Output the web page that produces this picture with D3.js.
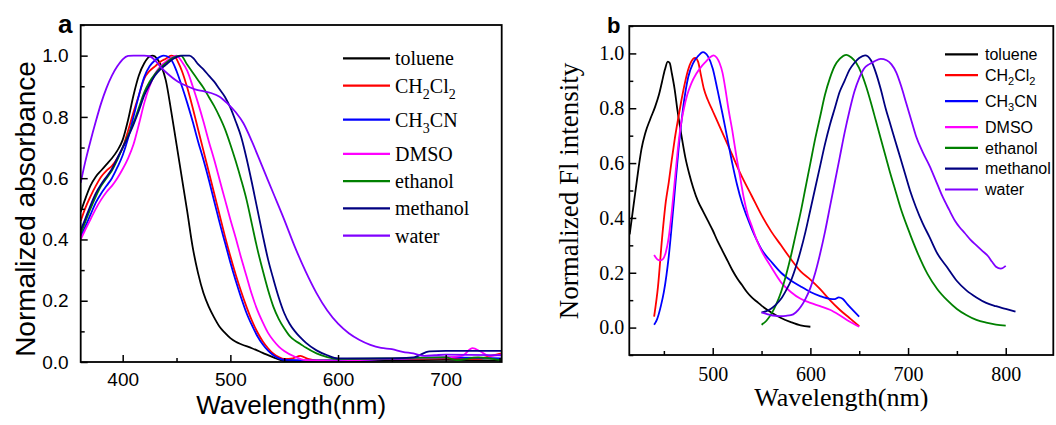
<!DOCTYPE html>
<html>
<head>
<meta charset="utf-8">
<script src="https://cdn.jsdelivr.net/npm/d3@7"></script>
<style>
  body { margin: 0; background: #fff; }
  svg { display: block; }
</style>
</head>
<body>
<svg id="chart" width="1056" height="425"></svg>
<script>
// ---- solvents and their colours ----
const solvents = ["toluene", "CH2Cl2", "CH3CN", "DMSO", "ethanol", "methanol", "water"];
const solventColors = ["#000000", "#ff0000", "#0000ff", "#ff00ff", "#008000", "#000080", "#8000ff"];

// ---- tick labels ----
const absTicksX = [400, 500, 600, 700];
const absTicksY = [0.0, 0.2, 0.4, 0.6, 0.8, 1.0];
const flTicksX = [500, 600, 700, 800];
const flTicksY = [0.0, 0.2, 0.4, 0.6, 0.8, 1.0];

// ---- (a) normalized absorbance spectra: [wavelength nm, value] ----
const absToluene = [[361,0.49],[365,0.53],[370,0.575],[375,0.605],[380,0.625],[385,0.645],[390,0.665],[395,0.69],[400,0.725],[405,0.79],[410,0.87],[415,0.935],[420,0.975],[425,0.997],[428,1.0],[432,0.99],[436,0.965],[440,0.92],[445,0.82],[450,0.71],[455,0.6],[460,0.49],[465,0.375],[470,0.29],[475,0.225],[480,0.18],[485,0.145],[490,0.115],[495,0.095],[500,0.078],[505,0.066],[510,0.058],[520,0.045],[530,0.03],[540,0.015],[550,0.004],[600,0.003],[650,0.005],[700,0.007],[752,0.005]];
const absCH2Cl2 = [[361,0.46],[365,0.5],[370,0.54],[375,0.575],[380,0.605],[385,0.625],[390,0.64],[395,0.665],[400,0.7],[405,0.755],[410,0.815],[415,0.87],[420,0.925],[425,0.95],[430,0.965],[435,0.98],[440,0.99],[445,1.0],[448,0.998],[452,0.975],[455,0.95],[460,0.895],[465,0.83],[470,0.76],[475,0.69],[480,0.62],[485,0.55],[490,0.48],[495,0.41],[500,0.345],[505,0.285],[510,0.23],[515,0.18],[520,0.135],[525,0.098],[530,0.068],[535,0.045],[540,0.027],[545,0.016],[550,0.01],[558,0.012],[565,0.02],[572,0.01],[580,0.005],[600,0.005],[650,0.01],[700,0.012],[730,0.01],[742,0.02],[752,0.028]];
const absCH3CN = [[361,0.41],[365,0.44],[370,0.48],[375,0.52],[380,0.55],[385,0.575],[390,0.6],[395,0.635],[400,0.675],[405,0.73],[410,0.8],[415,0.87],[420,0.93],[425,0.965],[430,0.985],[435,0.997],[438,1.0],[443,0.995],[447,0.975],[450,0.95],[455,0.9],[460,0.845],[465,0.785],[470,0.72],[475,0.66],[480,0.595],[485,0.525],[490,0.455],[495,0.39],[500,0.325],[505,0.265],[510,0.21],[515,0.16],[520,0.12],[525,0.085],[530,0.058],[535,0.037],[540,0.022],[545,0.012],[550,0.007],[600,0.005],[650,0.01],[700,0.015],[752,0.012]];
const absDMSO = [[361,0.4],[365,0.43],[370,0.465],[375,0.5],[380,0.53],[385,0.555],[390,0.575],[395,0.6],[400,0.63],[405,0.665],[410,0.71],[415,0.775],[420,0.845],[425,0.9],[430,0.94],[435,0.965],[440,0.98],[445,0.993],[450,1.0],[455,0.98],[460,0.95],[465,0.9],[470,0.845],[475,0.785],[480,0.72],[485,0.66],[490,0.595],[495,0.53],[500,0.465],[505,0.405],[510,0.34],[515,0.28],[520,0.22],[525,0.17],[530,0.13],[535,0.095],[540,0.07],[545,0.05],[550,0.036],[560,0.017],[570,0.006],[600,0.003],[640,0.01],[700,0.015],[715,0.02],[725,0.045],[732,0.035],[740,0.02],[752,0.025]];
const absEthanol = [[361,0.42],[365,0.455],[370,0.5],[375,0.54],[380,0.575],[385,0.6],[390,0.625],[395,0.66],[400,0.7],[405,0.74],[410,0.78],[415,0.83],[420,0.88],[425,0.915],[430,0.94],[435,0.96],[440,0.975],[445,0.99],[450,0.998],[454,1.0],[460,0.97],[465,0.945],[470,0.92],[475,0.895],[480,0.865],[485,0.835],[490,0.8],[495,0.76],[500,0.71],[505,0.655],[510,0.595],[515,0.53],[520,0.45],[525,0.37],[530,0.3],[535,0.235],[540,0.18],[545,0.14],[550,0.11],[555,0.085],[560,0.07],[565,0.059],[570,0.047],[580,0.028],[590,0.016],[600,0.01],[650,0.012],[700,0.015],[710,0.006],[730,0.015],[752,0.005]];
const absMethanol = [[361,0.43],[365,0.465],[370,0.51],[375,0.55],[380,0.58],[385,0.605],[390,0.63],[395,0.665],[400,0.7],[405,0.735],[410,0.775],[415,0.82],[420,0.87],[425,0.905],[430,0.935],[435,0.955],[440,0.97],[445,0.985],[450,0.995],[455,1.0],[462,1.0],[466,0.99],[470,0.972],[475,0.955],[480,0.935],[485,0.915],[490,0.89],[495,0.865],[500,0.83],[505,0.785],[510,0.735],[515,0.665],[520,0.585],[525,0.5],[530,0.415],[535,0.335],[540,0.27],[545,0.21],[550,0.16],[555,0.125],[560,0.1],[565,0.08],[570,0.063],[580,0.038],[590,0.022],[600,0.012],[650,0.012],[670,0.015],[685,0.035],[700,0.036],[752,0.036]];
const absWater = [[361,0.585],[365,0.65],[370,0.72],[375,0.785],[380,0.845],[385,0.895],[390,0.935],[395,0.965],[400,0.988],[405,0.999],[410,1.0],[420,1.0],[425,0.998],[430,0.985],[436,0.96],[442,0.94],[450,0.918],[460,0.9],[468,0.889],[475,0.884],[482,0.878],[490,0.866],[497,0.845],[505,0.815],[512,0.78],[520,0.72],[530,0.635],[540,0.55],[550,0.465],[560,0.375],[570,0.295],[580,0.225],[590,0.168],[600,0.125],[610,0.094],[620,0.072],[630,0.056],[640,0.046],[650,0.042],[660,0.033],[670,0.028],[680,0.02],[690,0.022],[700,0.024],[752,0.022]];

// ---- (b) normalized fluorescence spectra: [wavelength nm, value] ----
const flToluene = [[415,0.34],[418,0.42],[421,0.5],[424,0.58],[427,0.65],[431,0.71],[436,0.76],[441,0.805],[445,0.85],[448,0.895],[451,0.94],[454,0.97],[456,0.965],[458,0.93],[461,0.87],[464,0.79],[468,0.7],[472,0.62],[476,0.56],[480,0.51],[485,0.46],[490,0.425],[495,0.39],[500,0.355],[505,0.315],[510,0.28],[515,0.245],[520,0.21],[525,0.18],[530,0.155],[535,0.13],[540,0.11],[545,0.095],[550,0.08],[555,0.067],[560,0.055],[570,0.035],[580,0.02],[590,0.008],[600,0.003]];
const flCH2Cl2 = [[440,0.04],[444,0.15],[448,0.32],[452,0.46],[455,0.53],[458,0.61],[461,0.685],[465,0.77],[468,0.83],[472,0.9],[475,0.942],[478,0.97],[482,0.984],[485,0.97],[488,0.92],[491,0.87],[495,0.83],[500,0.79],[505,0.75],[510,0.71],[515,0.67],[520,0.63],[526,0.58],[530,0.55],[540,0.48],[550,0.41],[560,0.35],[570,0.3],[580,0.25],[590,0.205],[600,0.175],[610,0.14],[620,0.1],[630,0.065],[640,0.035],[650,0.005]];
const flCH3CN = [[440,0.01],[443,0.03],[447,0.08],[450,0.13],[455,0.26],[460,0.45],[465,0.65],[470,0.81],[475,0.915],[480,0.965],[485,0.99],[490,1.005],[495,0.99],[500,0.945],[505,0.865],[510,0.78],[515,0.69],[520,0.6],[525,0.52],[530,0.455],[535,0.405],[540,0.36],[545,0.32],[550,0.285],[560,0.24],[570,0.2],[580,0.172],[590,0.15],[600,0.13],[610,0.115],[620,0.105],[625,0.104],[629,0.11],[633,0.105],[638,0.085],[644,0.062],[650,0.04]];
const flDMSO = [[440,0.265],[443,0.25],[446,0.245],[449,0.25],[452,0.275],[455,0.33],[458,0.42],[461,0.53],[464,0.64],[467,0.73],[470,0.79],[474,0.85],[478,0.89],[483,0.925],[488,0.95],[493,0.97],[497,0.985],[501,0.993],[504,0.985],[507,0.965],[510,0.93],[513,0.87],[516,0.8],[520,0.72],[524,0.63],[528,0.55],[532,0.47],[536,0.41],[540,0.37],[545,0.32],[550,0.28],[560,0.22],[570,0.165],[580,0.13],[590,0.105],[600,0.09],[610,0.078],[620,0.065],[630,0.045],[640,0.022],[650,0.003]];
const flEthanol = [[550,0.01],[555,0.025],[560,0.05],[565,0.085],[570,0.13],[575,0.19],[580,0.26],[585,0.34],[590,0.42],[595,0.51],[600,0.6],[605,0.69],[610,0.77],[615,0.85],[620,0.91],[625,0.955],[630,0.98],[637,0.995],[642,0.985],[647,0.965],[652,0.93],[657,0.88],[662,0.82],[667,0.755],[672,0.69],[677,0.625],[682,0.56],[687,0.5],[692,0.44],[700,0.36],[710,0.27],[720,0.195],[730,0.14],[740,0.1],[750,0.068],[760,0.045],[770,0.028],[780,0.018],[790,0.011],[800,0.007]];
const flMethanol = [[550,0.055],[555,0.06],[560,0.07],[565,0.085],[570,0.105],[575,0.135],[580,0.17],[585,0.22],[590,0.28],[595,0.35],[600,0.43],[605,0.51],[610,0.59],[615,0.67],[620,0.74],[625,0.8],[630,0.86],[635,0.9],[640,0.94],[645,0.965],[650,0.983],[656,0.993],[662,0.975],[667,0.93],[672,0.87],[677,0.8],[682,0.74],[687,0.68],[692,0.62],[697,0.56],[702,0.5],[708,0.44],[715,0.38],[722,0.33],[730,0.27],[740,0.22],[750,0.17],[760,0.135],[770,0.11],[780,0.09],[790,0.078],[800,0.068],[810,0.058]];
const flWater = [[550,0.055],[555,0.05],[560,0.045],[565,0.043],[570,0.042],[575,0.043],[580,0.045],[585,0.055],[590,0.075],[595,0.105],[600,0.145],[605,0.2],[610,0.27],[615,0.35],[620,0.44],[625,0.53],[630,0.62],[635,0.71],[640,0.79],[645,0.86],[650,0.91],[655,0.945],[660,0.96],[665,0.97],[672,0.98],[678,0.975],[683,0.96],[688,0.93],[693,0.88],[698,0.82],[703,0.76],[708,0.7],[715,0.64],[722,0.59],[728,0.54],[735,0.48],[742,0.43],[748,0.39],[753,0.365],[758,0.345],[764,0.32],[770,0.3],[776,0.28],[782,0.26],[786,0.24],[790,0.222],[795,0.215],[800,0.225]];

const absSeries = [absToluene, absCH2Cl2, absCH3CN, absDMSO, absEthanol, absMethanol, absWater];
const flSeries = [flToluene, flCH2Cl2, flCH3CN, flDMSO, flEthanol, flMethanol, flWater];

const SANS = "'Liberation Sans', Arial, Helvetica, sans-serif";
const SERIF = "'Liberation Serif', 'Times New Roman', Times, serif";

const svg = d3.select("#chart");

// Writes a solvent name with its digits as subscripts (CH2Cl2 -> CH₂Cl₂).
function formula(textSel, label, subSize, subDrop) {
  const parts = label.match(/\d+|\D+/g);
  let lowered = false;
  parts.forEach(p => {
    const isSub = /\d/.test(p);
    const t = textSel.append("tspan").text(p);
    if (isSub) {
      t.attr("font-size", subSize).attr("dy", lowered ? 0 : subDrop);
      lowered = true;
    } else if (lowered) {
      t.attr("dy", -subDrop);
      lowered = false;
    }
  });
}

function drawPanel(p) {
  const x = d3.scaleLinear().domain(p.xDomain).range([p.left, p.right]);
  const y = d3.scaleLinear().domain(p.yDomain).range([p.bottom, p.top]);
  const g = svg.append("g");

  const clipId = "clip-" + p.name;
  svg.append("clipPath").attr("id", clipId).append("rect")
    .attr("x", p.left).attr("y", p.top)
    .attr("width", p.right - p.left).attr("height", p.bottom - p.top);

  const line = d3.line()
    .x(d => x(d[0])).y(d => y(d[1]))
    .curve(d3.curveMonotoneX);

  const curves = g.append("g").attr("clip-path", `url(#${clipId})`);
  p.series.forEach((pts, i) => {
    curves.append("path")
      .datum(pts)
      .attr("d", line)
      .attr("fill", "none")
      .attr("stroke", solventColors[i])
      .attr("stroke-width", 1.8)
      .attr("stroke-linejoin", "round");
  });

  // labelled major ticks plus unlabelled minor ticks, all pointing inward
  const xMinor = d3.range(Math.ceil(p.xDomain[0] / 50) * 50, p.xDomain[1], 50)
    .filter(v => !p.xTicks.includes(v));
  const yMinor = d3.range(Math.ceil(p.yDomain[0] * 10 - 1e-6), Math.floor(p.yDomain[1] * 10 + 1e-6) + 1)
    .map(v => v / 10)
    .filter(v => !p.yTicks.some(t => Math.abs(t - v) < 1e-6));

  const styleAxis = s => {
    s.select(".domain").remove();
    s.selectAll(".tick line").attr("stroke", "#000").attr("stroke-width", 1.5);
    s.selectAll(".tick text")
      .attr("fill", "#000")
      .attr("font-family", p.tickFont)
      .attr("font-size", p.tickSize);
  };

  g.append("g").attr("transform", `translate(0,${p.bottom})`)
    .call(d3.axisBottom(x).tickValues(p.xTicks).tickFormat(d3.format("d"))
      .tickSizeInner(-7).tickSizeOuter(0).tickPadding(p.xPad))
    .call(styleAxis);
  g.append("g").attr("transform", `translate(0,${p.bottom})`)
    .call(d3.axisBottom(x).tickValues(xMinor).tickFormat("")
      .tickSizeInner(-4).tickSizeOuter(0))
    .call(styleAxis);
  g.append("g").attr("transform", `translate(${p.left},0)`)
    .call(d3.axisLeft(y).tickValues(p.yTicks).tickFormat(d3.format(".1f"))
      .tickSizeInner(-7).tickSizeOuter(0).tickPadding(p.yPad))
    .call(styleAxis);
  g.append("g").attr("transform", `translate(${p.left},0)`)
    .call(d3.axisLeft(y).tickValues(yMinor).tickFormat("")
      .tickSizeInner(-4).tickSizeOuter(0))
    .call(styleAxis);

  // plot frame
  g.append("rect")
    .attr("x", p.left).attr("y", p.top)
    .attr("width", p.right - p.left).attr("height", p.bottom - p.top)
    .attr("fill", "none").attr("stroke", "#000").attr("stroke-width", 1.8);

  // axis titles
  g.append("text")
    .attr("x", (p.left + p.right) / 2).attr("y", p.xTitleY)
    .attr("text-anchor", "middle")
    .attr("font-family", p.titleFont).attr("font-size", p.xTitleSize)
    .attr("fill", "#000")
    .text("Wavelength(nm)");
  g.append("text")
    .attr("transform", `translate(${p.yTitleX},${p.yTitleCY}) rotate(-90)`)
    .attr("text-anchor", "middle")
    .attr("font-family", p.titleFont).attr("font-size", p.yTitleSize)
    .attr("fill", "#000")
    .text(p.yTitle);

  // panel letter
  g.append("text")
    .attr("x", p.letterX).attr("y", p.letterY)
    .attr("font-family", SANS).attr("font-weight", "bold")
    .attr("font-size", p.letterSize).attr("fill", "#000")
    .text(p.letter);

  // legend
  const lg = p.legend;
  let ly = lg.top;
  solvents.forEach((name, i) => {
    const row = g.append("g");
    row.append("line")
      .attr("x1", lg.x1).attr("x2", lg.x2).attr("y1", ly).attr("y2", ly)
      .attr("stroke", solventColors[i]).attr("stroke-width", 2.2);
    const t = row.append("text")
      .attr("x", lg.textX).attr("y", ly + lg.baseline)
      .attr("font-family", lg.font).attr("font-size", lg.size)
      .attr("fill", "#000");
    formula(t, name, lg.subSize, lg.subDrop);
    ly += lg.gap + (/\d/.test(name) ? lg.subExtra : 0);
  });
}

drawPanel({
  name: "abs", letter: "a", letterX: 58, letterY: 33, letterSize: 26,
  left: 80.7, right: 501.7, top: 25, bottom: 362,
  xDomain: [361, 752], yDomain: [0, 1.1],
  xTicks: absTicksX, yTicks: absTicksY,
  series: absSeries,
  tickFont: SANS, tickSize: 19, xPad: 11, yPad: 12,
  titleFont: SANS, xTitleSize: 26, xTitleY: 414,
  yTitle: "Normalized absorbance", yTitleSize: 28, yTitleX: 35, yTitleCY: 209,
  legend: { x1: 343, x2: 390, textX: 395, top: 58.3, gap: 27.3, subExtra: 6.8,
            baseline: 7, font: SERIF, size: 20, subSize: 14, subDrop: 6 }
});

drawPanel({
  name: "fl", letter: "b", letterX: 607, letterY: 33, letterSize: 22,
  left: 629.3, right: 1053.3, top: 26, bottom: 355,
  xDomain: [414.6, 848.7], yDomain: [-0.1, 1.1],
  xTicks: flTicksX, yTicks: flTicksY,
  series: flSeries,
  tickFont: SERIF, tickSize: 20, xPad: 11.5, yPad: 5,
  titleFont: SERIF, xTitleSize: 26, xTitleY: 406,
  yTitle: "Normalized Fl intensity", yTitleSize: 27, yTitleX: 578, yTitleCY: 191,
  legend: { x1: 945, x2: 978, textX: 985, top: 54.3, gap: 20.8, subExtra: 5.2,
            baseline: 5.7, font: SANS, size: 16, subSize: 11, subDrop: 4.5 }
});
</script>
</body>
</html>
